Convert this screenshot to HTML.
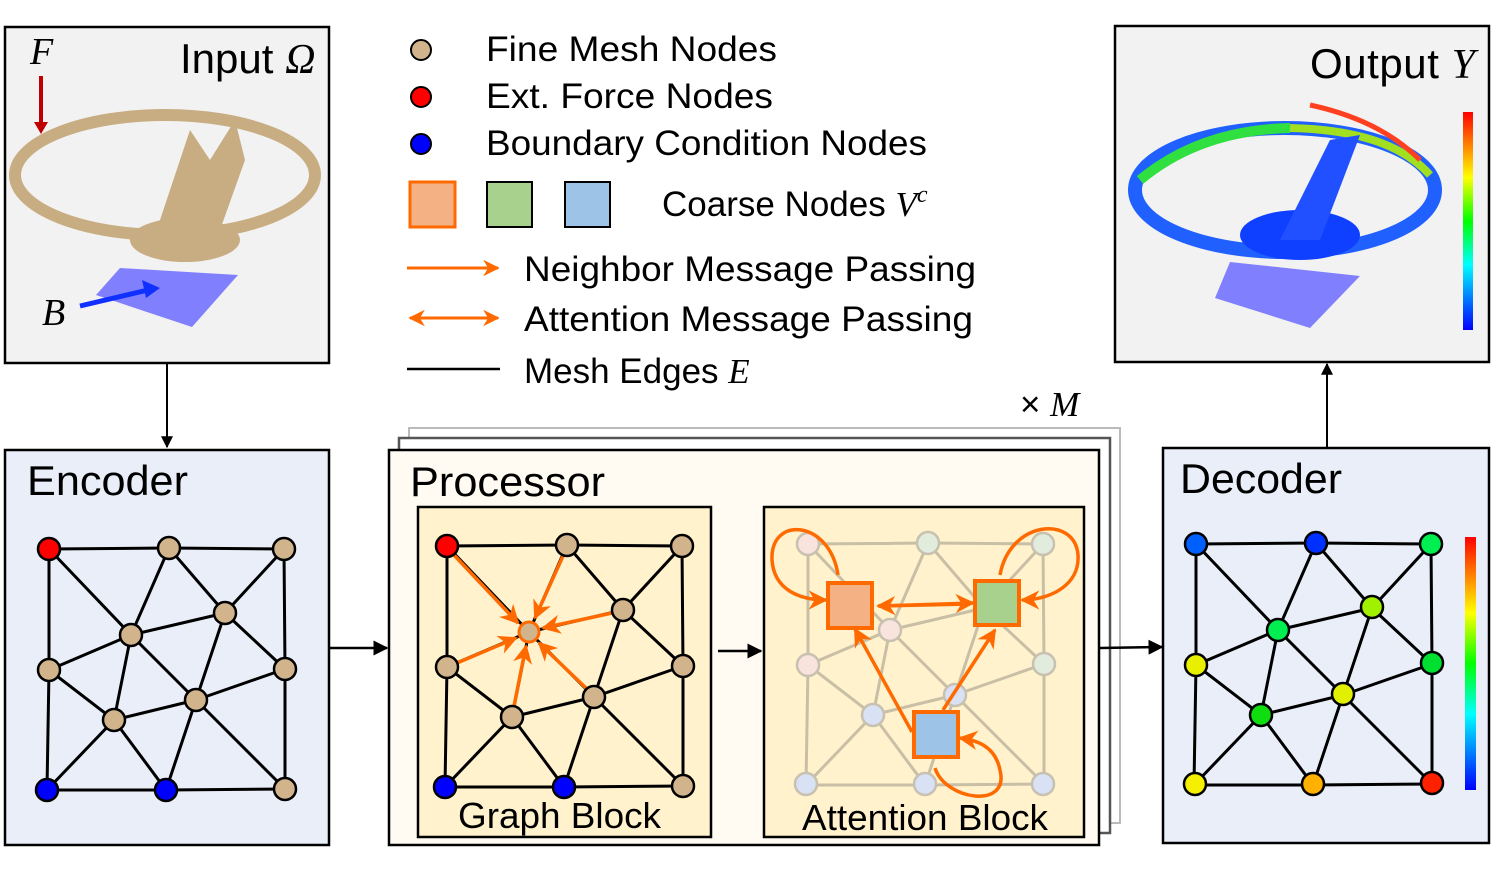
<!DOCTYPE html>
<html><head><meta charset="utf-8"><style>
body{margin:0;background:#fff;}
svg{display:block;font-family:"Liberation Sans",sans-serif;}
</style></head><body>
<svg width="1494" height="879" viewBox="0 0 1494 879" xmlns="http://www.w3.org/2000/svg">
<defs>
<g id="mesh">
<path d="M49 549L169 548L284 549L285 669L285 789L166 790L47 790L49 670Z M49 549L131 635L169 548L225 613L284 549 M131 635L225 613L196 700L131 635L49 670L114 720L131 635 M225 613L285 669 M196 700L285 669 M114 720L196 700 M114 720L47 790 M114 720L166 790L196 700L285 789" fill="none"/>
</g>
<marker id="ah" viewBox="0 0 10 10" refX="9" refY="5" markerWidth="5.5" markerHeight="5.5" orient="auto-start-reverse"><path d="M0 0L10 5L0 10L3 5Z" fill="#ff6a00"/></marker>
<marker id="bh" viewBox="0 0 10 10" refX="9" refY="5" markerWidth="6" markerHeight="6" orient="auto"><path d="M0 0L10 5L0 10Z" fill="#000"/></marker>
<linearGradient id="jet" x1="0" y1="1" x2="0" y2="0">
<stop offset="0" stop-color="#0000ff"/><stop offset="0.3" stop-color="#00ffff"/><stop offset="0.5" stop-color="#00ff00"/><stop offset="0.7" stop-color="#ffff00"/><stop offset="0.85" stop-color="#ff8000"/><stop offset="1" stop-color="#ff0000"/></linearGradient>
</defs>

<!-- Input box -->
<rect x="5" y="27" width="324" height="336" fill="#f2f2f2" stroke="#000" stroke-width="2.5"/>
<text x="180" y="73" font-size="42">Input <tspan font-family="Liberation Serif" font-style="italic">Ω</tspan></text>
<text x="30" y="64" font-size="38" font-family="Liberation Serif" font-style="italic">F</text>
<text x="42" y="325" font-size="38" font-family="Liberation Serif" font-style="italic">B</text>
<polygon points="120,268 238,275 192,327 96,295" fill="#8080ff"/>
<ellipse cx="165" cy="175" rx="150" ry="60" fill="none" stroke="#c8ad82" stroke-width="12"/>
<path d="M150 250 L190 130 L210 160 L235 120 L245 160 L220 230 Z" fill="#c8ad82"/>
<ellipse cx="185" cy="240" rx="55" ry="22" fill="#c8ad82"/>
<line x1="41" y1="76" x2="41" y2="125" stroke="#c00000" stroke-width="4"/>
<polygon points="34,122 48,122 41,134" fill="#c00000"/>
<line x1="80" y1="306" x2="148" y2="290" stroke="#1030ff" stroke-width="5"/>
<polygon points="160,288 142,280 146,298" fill="#1030ff"/>
<line x1="167" y1="363" x2="167" y2="447" stroke="#000" stroke-width="2" marker-end="url(#bh)"/>

<!-- Output box -->
<rect x="1115" y="26" width="374" height="336" fill="#f2f2f2" stroke="#000" stroke-width="2.5"/>
<text x="1310" y="78" font-size="42" textLength="165">Output <tspan font-family="Liberation Serif" font-style="italic">Y</tspan></text>
<polygon points="1230,262 1360,276 1310,328 1215,298" fill="#8080ff"/>
<ellipse cx="1285" cy="190" rx="150" ry="62" fill="none" stroke="#2060ff" stroke-width="14"/>
<path d="M1140 180 Q1200 130 1290 128" fill="none" stroke="#30e040" stroke-width="10"/>
<path d="M1290 128 Q1390 130 1430 175" fill="none" stroke="#a0e020" stroke-width="8"/>
<path d="M1310 105 Q1380 120 1420 160" fill="none" stroke="#ff4020" stroke-width="5"/>
<ellipse cx="1300" cy="235" rx="60" ry="25" fill="#1040ff"/>
<path d="M1280 240 L1330 140 L1360 135 L1320 240 Z" fill="#2050ff"/>
<rect x="1463" y="112" width="10" height="218" fill="url(#jet)"/>
<line x1="1327" y1="447" x2="1327" y2="364" stroke="#000" stroke-width="2" marker-end="url(#bh)"/>

<!-- Legend -->
<g font-size="35">
<circle cx="421" cy="50" r="10" fill="#d2b48c" stroke="#000" stroke-width="2"/>
<text x="486" y="61" textLength="291" lengthAdjust="spacingAndGlyphs">Fine Mesh Nodes</text>
<circle cx="421" cy="97" r="10" fill="#ff0000" stroke="#000" stroke-width="2"/>
<text x="486" y="108" textLength="287" lengthAdjust="spacingAndGlyphs">Ext. Force Nodes</text>
<circle cx="421" cy="144" r="10" fill="#0000ff" stroke="#000" stroke-width="2"/>
<text x="486" y="155" textLength="441" lengthAdjust="spacingAndGlyphs">Boundary Condition Nodes</text>
<rect x="410" y="182" width="45" height="45" fill="#f4b183" stroke="#ff6a00" stroke-width="3"/>
<rect x="487" y="182" width="45" height="45" fill="#a9d18e" stroke="#000" stroke-width="2"/>
<rect x="565" y="182" width="45" height="45" fill="#9dc3e6" stroke="#000" stroke-width="2"/>
<text x="662" y="216">Coarse Nodes <tspan font-family="Liberation Serif" font-style="italic">V<tspan dy="-14" font-size="24">c</tspan></tspan></text>
<line x1="407" y1="268" x2="498" y2="268" stroke="#ff6a00" stroke-width="3" marker-end="url(#ah)"/>
<text x="524" y="281" textLength="452" lengthAdjust="spacingAndGlyphs">Neighbor Message Passing</text>
<line x1="410" y1="318" x2="498" y2="318" stroke="#ff6a00" stroke-width="3" marker-start="url(#ah)" marker-end="url(#ah)"/>
<text x="524" y="331" textLength="449" lengthAdjust="spacingAndGlyphs">Attention Message Passing</text>
<line x1="407" y1="369" x2="500" y2="369" stroke="#000" stroke-width="2.5"/>
<text x="524" y="383">Mesh Edges <tspan font-family="Liberation Serif" font-style="italic">E</tspan></text>
<text x="1020" y="416">× <tspan font-family="Liberation Serif" font-style="italic">M</tspan></text>
</g>

<!-- Encoder -->
<rect x="5" y="450" width="324" height="395" fill="#e9eef8" stroke="#000" stroke-width="2.5"/>
<text x="27" y="495" font-size="42" textLength="161" lengthAdjust="spacingAndGlyphs">Encoder</text>
<use href="#mesh" stroke="#000" stroke-width="3"/>
<g stroke="#000" stroke-width="2.5" fill="#d2b48c">
<circle cx="49" cy="549" r="11" fill="#ff0000"/><circle cx="169" cy="548" r="11"/><circle cx="284" cy="549" r="11"/>
<circle cx="225" cy="613" r="11"/><circle cx="131" cy="635" r="11"/><circle cx="49" cy="670" r="11"/>
<circle cx="285" cy="669" r="11"/><circle cx="196" cy="700" r="11"/><circle cx="114" cy="720" r="11"/>
<circle cx="47" cy="790" r="11" fill="#0000ff"/><circle cx="166" cy="790" r="11" fill="#0000ff"/><circle cx="285" cy="789" r="11"/>
</g>
<line x1="330" y1="648" x2="387" y2="648" stroke="#000" stroke-width="2.5" marker-end="url(#bh)"/>

<!-- Processor stack -->
<rect x="409" y="428" width="711" height="395" fill="#fff" stroke="#bbb" stroke-width="2"/>
<rect x="399" y="438" width="711" height="395" fill="#fff" stroke="#555" stroke-width="2.5"/>
<rect x="389" y="450" width="710" height="395" fill="#fffbf2" stroke="#000" stroke-width="2.5"/>
<text x="410" y="496" font-size="42" textLength="195" lengthAdjust="spacingAndGlyphs">Processor</text>

<!-- Graph block -->
<rect x="418" y="507" width="293" height="330" fill="#fff2cc" stroke="#000" stroke-width="2.5"/>
<use href="#mesh" transform="translate(398,-3)" stroke="#000" stroke-width="3"/>
<g stroke="#ff6a00" stroke-width="3.5" marker-end="url(#ah)">
<line x1="454" y1="555" x2="518" y2="623"/>
<line x1="563" y1="556" x2="535" y2="618"/>
<line x1="612" y1="613" x2="543" y2="628"/>
<line x1="457" y1="663" x2="516" y2="638"/>
<line x1="514" y1="706" x2="526" y2="646"/>
<line x1="587" y1="689" x2="539" y2="643"/>
</g>
<g stroke="#000" stroke-width="2.5" fill="#d2b48c">
<circle cx="447" cy="546" r="11" fill="#ff0000"/><circle cx="567" cy="545" r="11"/><circle cx="682" cy="546" r="11"/>
<circle cx="623" cy="610" r="11"/><circle cx="529" cy="632" r="10" stroke="#ff6a00" stroke-width="3"/><circle cx="447" cy="667" r="11"/>
<circle cx="683" cy="666" r="11"/><circle cx="594" cy="697" r="11"/><circle cx="512" cy="717" r="11"/>
<circle cx="445" cy="787" r="11" fill="#0000ff"/><circle cx="564" cy="787" r="11" fill="#0000ff"/><circle cx="683" cy="786" r="11"/>
</g>
<text x="458" y="828" font-size="36" textLength="203" lengthAdjust="spacingAndGlyphs">Graph Block</text>
<line x1="718" y1="651" x2="761" y2="651" stroke="#000" stroke-width="2.5" marker-end="url(#bh)"/>

<!-- Attention block -->
<rect x="764" y="507" width="320" height="330" fill="#fff2cc" stroke="#000" stroke-width="2.5"/>
<use href="#mesh" transform="translate(759,-5)" stroke="#c8bfa6" stroke-width="3"/>
<g stroke="#c8c0b0" stroke-width="2.5">
<circle cx="808" cy="544" r="11" fill="#f8e4dc"/><circle cx="928" cy="543" r="11" fill="#e2ecdc"/><circle cx="1043" cy="544" r="11" fill="#e2ecdc"/>
<circle cx="890" cy="630" r="11" fill="#f8e4dc"/><circle cx="808" cy="665" r="11" fill="#f8e4dc"/>
<circle cx="1044" cy="664" r="11" fill="#e2ecdc"/><circle cx="955" cy="695" r="11" fill="#d8e2f4"/><circle cx="873" cy="715" r="11" fill="#d8e2f4"/>
<circle cx="806" cy="784" r="11" fill="#d8e2f4"/><circle cx="925" cy="784" r="11" fill="#d8e2f4"/><circle cx="1043" cy="784" r="11" fill="#d8e2f4"/>
</g>
<g fill="none" stroke="#ff6a00" stroke-width="3.5" marker-end="url(#ah)">
<path d="M838 575 C830 520 770 515 772 560 C774 590 800 600 826 600"/>
<path d="M1000 575 C1010 520 1075 515 1078 555 C1080 585 1050 600 1022 600"/>
<path d="M935 768 C945 800 1010 810 1000 770 C995 745 975 740 960 738"/>
<path d="M881 606 L973 603"/>
<path d="M970 604 L878 606"/>
<path d="M912 732 L855 629"/>
<path d="M943 710 L995 630"/>
</g>
<rect x="828" y="583" width="44" height="45" fill="#f4b183" stroke="#ff6a00" stroke-width="4"/>
<rect x="975" y="581" width="44" height="44" fill="#a9d18e" stroke="#ff6a00" stroke-width="4"/>
<rect x="914" y="712" width="44" height="45" fill="#9dc3e6" stroke="#ff6a00" stroke-width="4"/>
<text x="802" y="830" font-size="36" textLength="246" lengthAdjust="spacingAndGlyphs">Attention Block</text>

<line x1="1100" y1="648" x2="1162" y2="647" stroke="#000" stroke-width="2.5" marker-end="url(#bh)"/>

<!-- Decoder -->
<rect x="1163" y="448" width="326" height="395" fill="#e9eef8" stroke="#000" stroke-width="2.5"/>
<text x="1180" y="493" font-size="42" textLength="162" lengthAdjust="spacingAndGlyphs">Decoder</text>
<use href="#mesh" transform="translate(1147,-5)" stroke="#000" stroke-width="3"/>
<g stroke="#000" stroke-width="2.5">
<circle cx="1196" cy="544" r="11" fill="#0060ff"/><circle cx="1316" cy="543" r="11" fill="#0030ff"/><circle cx="1431" cy="544" r="11" fill="#00ee50"/>
<circle cx="1372" cy="607" r="11" fill="#a0f000"/><circle cx="1278" cy="630" r="11" fill="#00ee50"/><circle cx="1196" cy="665" r="11" fill="#e8f000"/>
<circle cx="1432" cy="663" r="11" fill="#00e030"/><circle cx="1343" cy="694" r="11" fill="#e0f000"/><circle cx="1261" cy="715" r="11" fill="#10dd10"/>
<circle cx="1195" cy="784" r="11" fill="#f5f000"/><circle cx="1313" cy="784" r="11" fill="#ffb000"/><circle cx="1432" cy="783" r="11" fill="#ff2000"/>
</g>
<rect x="1465" y="537" width="11" height="253" fill="url(#jet)"/>
</svg>
</body></html>
